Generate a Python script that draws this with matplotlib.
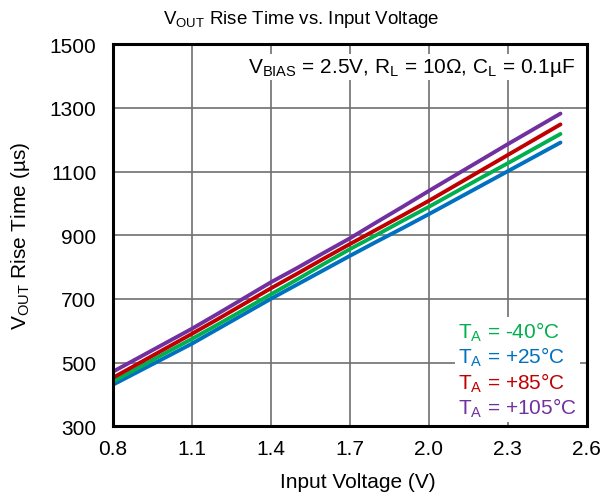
import numpy as np
import matplotlib
matplotlib.use('Agg')
import matplotlib.pyplot as plt

plt.rcParams['font.family'] = ['Liberation Sans', 'DejaVu Sans']
plt.rcParams['mathtext.fontset'] = 'custom'
plt.rcParams['mathtext.rm'] = 'Liberation Sans'
plt.rcParams['mathtext.it'] = 'Liberation Sans'

# 数据
vin = [0.8, 0.9, 1.0, 1.1, 1.2, 1.3, 1.4, 1.5, 1.6, 1.7, 1.8, 1.9, 2.0, 2.1, 2.2, 2.3, 2.4, 2.5]
t_m40 = [440, 485, 530, 574, 620, 667, 714, 761, 809, 856, 900, 945, 989, 1035, 1081, 1126, 1172, 1218]
t_25 = [430, 473, 516, 559, 606, 653, 700, 745, 790, 835, 879, 922, 966, 1011, 1056, 1101, 1146, 1191]
t_85 = [452, 498, 544, 590, 637, 685, 733, 779, 826, 872, 917, 962, 1008, 1056, 1104, 1152, 1200, 1248]
t_105 = [471, 516, 561, 606, 654, 703, 752, 797, 844, 890, 940, 989, 1039, 1088, 1137, 1186, 1234, 1282]

labels = [r'T$_{\mathrm{A}}$ = -40°C', r'T$_{\mathrm{A}}$ = +25°C',
          r'T$_{\mathrm{A}}$ = +85°C', r'T$_{\mathrm{A}}$ = +105°C']
colors = ['#00b050', '#0070c0', '#c00000', '#7030a0']
series = [t_m40, t_25, t_85, t_105]

fig = plt.figure(figsize=(6, 5.02), dpi=100)
ax = fig.add_axes([0.188, 0.149, 0.79, 0.761])

# 绘制顺序：蓝、绿、红、紫
for i in [1, 0, 2, 3]:
    ax.plot(vin, series[i], color=colors[i], lw=2.8, solid_capstyle='round')

ax.set_xlim(0.8, 2.6)
ax.set_ylim(300, 1500)
ax.set_xticks(np.arange(0.8, 2.61, 0.3))
ax.set_xticklabels(['0.8', '1.1', '1.4', '1.7', '2.0', '2.3', '2.6'])
ax.set_yticks(np.arange(300, 1501, 200))
ax.grid(True, color='#707070', lw=1.2)
ax.set_axisbelow(True)
for s in ax.spines.values():
    s.set_linewidth(2.2)
ax.tick_params(labelsize=15, length=0)
ax.tick_params(axis='x', pad=9)
ax.tick_params(axis='y', pad=12)

ax.set_xlabel('Input Voltage (V)', fontsize=15)
ax.xaxis.set_label_coords(0.517, -0.12)
ax.set_ylabel(r'V$_{\mathrm{OUT}}$ Rise Time (µs)', fontsize=15)
ax.yaxis.set_label_coords(-0.17, 0.5)
fig.text(0.502, 1 - 20 / 502, r'V$_{\mathrm{OUT}}$ Rise Time vs. Input Voltage',
         ha='center', va='center', fontsize=13.5)

ax.text(0.975, 0.94, r'V$_{\mathrm{BIAS}}$ = 2.5V, R$_{\mathrm{L}}$ = 10Ω, C$_{\mathrm{L}}$ = 0.1µF',
        transform=ax.transAxes, ha='right', va='center', fontsize=15,
        bbox=dict(facecolor='white', edgecolor='none', pad=1.5))

leg_handles = [plt.Line2D([], [], color=c, lw=0) for c in colors]
leg = ax.legend(leg_handles, labels, loc='lower right', frameon=True, fontsize=15,
                handlelength=0, handletextpad=0, borderpad=0.15, labelspacing=0.1,
                borderaxespad=0, bbox_to_anchor=(0.985, 0.01), fancybox=False)
leg.get_frame().set_edgecolor('none')
leg.get_frame().set_alpha(1)
for t, c in zip(leg.get_texts(), colors):
    t.set_color(c)

fig.savefig('out.png', dpi=100)
